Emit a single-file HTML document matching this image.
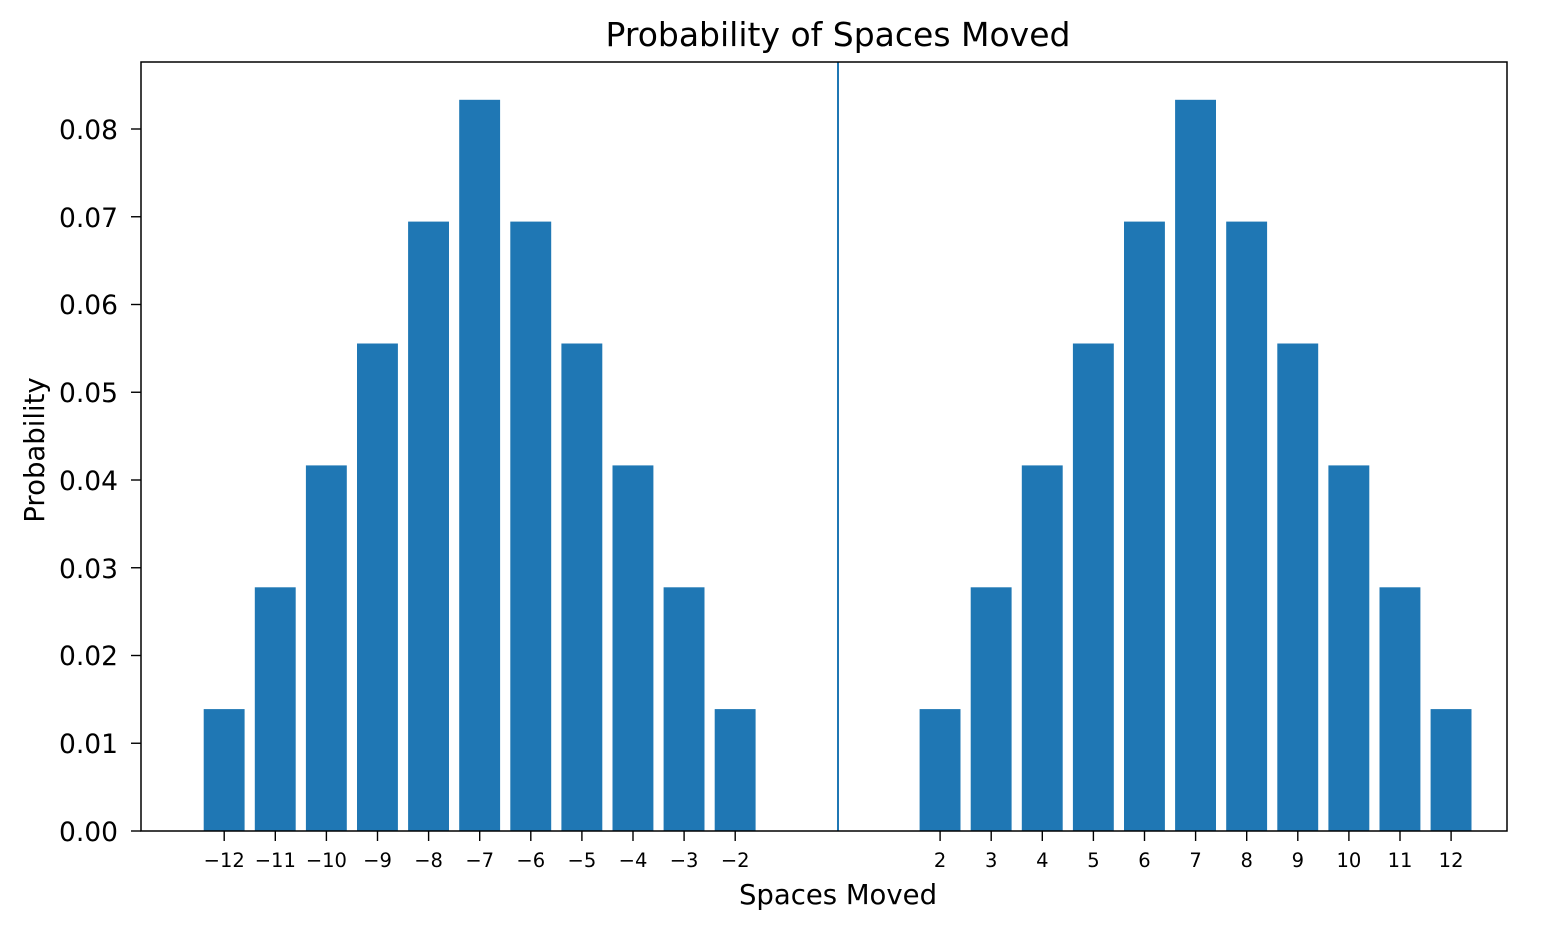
<!DOCTYPE html>
<html><head><meta charset="utf-8"><style>body{margin:0;background:#fff}</style></head><body>
<svg width="1555" height="931" xmlns="http://www.w3.org/2000/svg" font-family="DejaVu Sans, Liberation Sans, sans-serif">
<rect width="1555" height="931" fill="#fff"/>
<g fill="#1f77b4">
<rect x="203.7" y="709.1" width="40.9" height="121.9"/>
<rect x="254.8" y="587.3" width="40.9" height="243.7"/>
<rect x="305.9" y="465.4" width="40.9" height="365.6"/>
<rect x="357.0" y="343.5" width="40.9" height="487.5"/>
<rect x="408.1" y="221.6" width="40.9" height="609.4"/>
<rect x="459.2" y="99.8" width="40.9" height="731.2"/>
<rect x="510.3" y="221.6" width="40.9" height="609.4"/>
<rect x="561.4" y="343.5" width="40.9" height="487.5"/>
<rect x="612.5" y="465.4" width="40.9" height="365.6"/>
<rect x="663.6" y="587.3" width="40.9" height="243.7"/>
<rect x="714.7" y="709.1" width="40.9" height="121.9"/>
<rect x="919.6" y="709.1" width="40.9" height="121.9"/>
<rect x="970.7" y="587.3" width="40.9" height="243.7"/>
<rect x="1021.8" y="465.4" width="40.9" height="365.6"/>
<rect x="1072.9" y="343.5" width="40.9" height="487.5"/>
<rect x="1124.0" y="221.6" width="40.9" height="609.4"/>
<rect x="1175.1" y="99.8" width="40.9" height="731.2"/>
<rect x="1226.2" y="221.6" width="40.9" height="609.4"/>
<rect x="1277.3" y="343.5" width="40.9" height="487.5"/>
<rect x="1328.4" y="465.4" width="40.9" height="365.6"/>
<rect x="1379.5" y="587.3" width="40.9" height="243.7"/>
<rect x="1430.6" y="709.1" width="40.9" height="121.9"/>
</g>
<line x1="838" y1="62" x2="838" y2="831" stroke="#1f77b4" stroke-width="2"/>
<rect x="141" y="62" width="1366" height="769" fill="none" stroke="#000" stroke-width="1.5"/>
<g stroke="#000" stroke-width="1.4">
<line x1="141" y1="831" x2="131" y2="831"/><line x1="141" y1="743.25" x2="131" y2="743.25"/><line x1="141" y1="655.5" x2="131" y2="655.5"/><line x1="141" y1="567.75" x2="131" y2="567.75"/><line x1="141" y1="480" x2="131" y2="480"/><line x1="141" y1="392.25" x2="131" y2="392.25"/><line x1="141" y1="304.5" x2="131" y2="304.5"/><line x1="141" y1="216.75" x2="131" y2="216.75"/><line x1="141" y1="129" x2="131" y2="129"/>
<line x1="224.2" y1="831" x2="224.2" y2="841"/><line x1="275.3" y1="831" x2="275.3" y2="841"/><line x1="326.4" y1="831" x2="326.4" y2="841"/><line x1="377.5" y1="831" x2="377.5" y2="841"/><line x1="428.6" y1="831" x2="428.6" y2="841"/><line x1="479.7" y1="831" x2="479.7" y2="841"/><line x1="530.8" y1="831" x2="530.8" y2="841"/><line x1="581.9" y1="831" x2="581.9" y2="841"/><line x1="633" y1="831" x2="633" y2="841"/><line x1="684.1" y1="831" x2="684.1" y2="841"/><line x1="735.2" y1="831" x2="735.2" y2="841"/>
<line x1="940.1" y1="831" x2="940.1" y2="841"/><line x1="991.2" y1="831" x2="991.2" y2="841"/><line x1="1042.3" y1="831" x2="1042.3" y2="841"/><line x1="1093.4" y1="831" x2="1093.4" y2="841"/><line x1="1144.5" y1="831" x2="1144.5" y2="841"/><line x1="1195.6" y1="831" x2="1195.6" y2="841"/><line x1="1246.7" y1="831" x2="1246.7" y2="841"/><line x1="1297.8" y1="831" x2="1297.8" y2="841"/><line x1="1348.9" y1="831" x2="1348.9" y2="841"/><line x1="1400" y1="831" x2="1400" y2="841"/><line x1="1451.1" y1="831" x2="1451.1" y2="841"/>
</g>
<g font-size="26.5" text-anchor="end" fill="#000">
<text x="118" y="841">0.00</text><text x="118" y="753">0.01</text><text x="118" y="665">0.02</text><text x="118" y="578">0.03</text><text x="118" y="490">0.04</text><text x="118" y="402">0.05</text><text x="118" y="314">0.06</text><text x="118" y="227">0.07</text><text x="118" y="139">0.08</text>
</g>
<g font-size="19.5" text-anchor="middle" fill="#000">
<text x="224.2" y="867">−12</text><text x="275.3" y="867">−11</text><text x="326.4" y="867">−10</text><text x="377.5" y="867">−9</text><text x="428.6" y="867">−8</text><text x="479.7" y="867">−7</text><text x="530.8" y="867">−6</text><text x="581.9" y="867">−5</text><text x="633" y="867">−4</text><text x="684.1" y="867">−3</text><text x="735.2" y="867">−2</text>
<text x="940.1" y="867">2</text><text x="991.2" y="867">3</text><text x="1042.3" y="867">4</text><text x="1093.4" y="867">5</text><text x="1144.5" y="867">6</text><text x="1195.6" y="867">7</text><text x="1246.7" y="867">8</text><text x="1297.8" y="867">9</text><text x="1348.9" y="867">10</text><text x="1400" y="867">11</text><text x="1451.1" y="867">12</text>
</g>
<text x="838" y="904" font-size="27.5" text-anchor="middle">Spaces Moved</text>
<text x="838" y="46" font-size="33" text-anchor="middle">Probability of Spaces Moved</text>
<text transform="translate(44,450) rotate(-90)" font-size="27.5" text-anchor="middle">Probability</text>
</svg>
</body></html>
